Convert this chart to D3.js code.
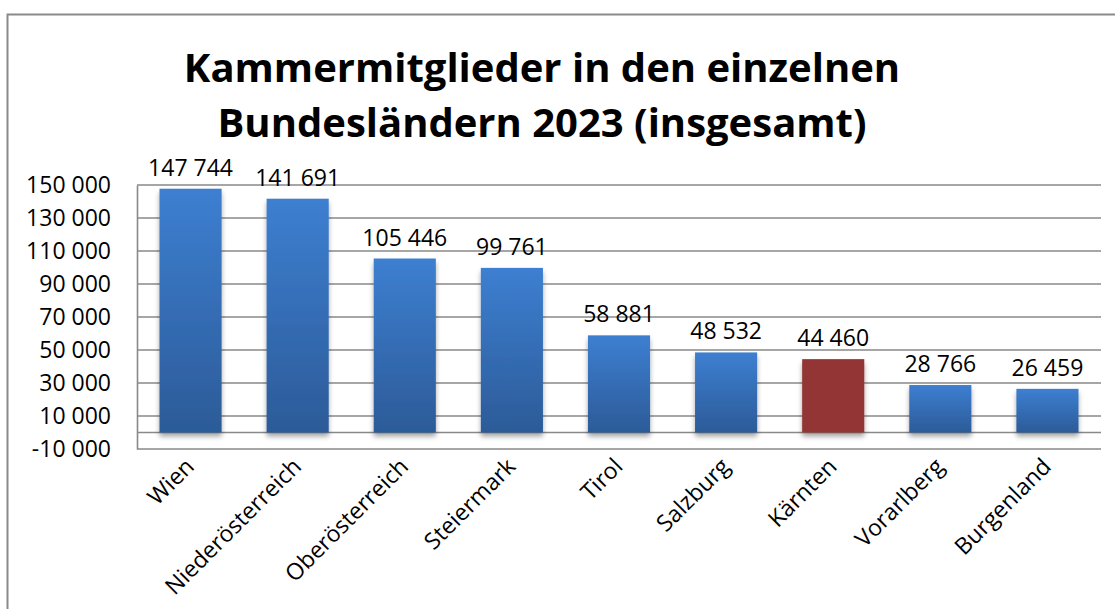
<!DOCTYPE html>
<html>
<head>
<meta charset="utf-8">
<script src="https://cdn.jsdelivr.net/npm/d3@7"></script>
<style>
  body { margin: 0; background: #fff; }
  text { font-family: "Open Sans", sans-serif; fill: #000; }
</style>
</head>
<body>
<div id="chart"></div>
<script>
// data
const states = ["Wien", "Niederösterreich", "Oberösterreich", "Steiermark", "Tirol",
    "Salzburg", "Kärnten", "Vorarlberg", "Burgenland"];
const members = [147744, 141691, 105446, 99761, 58881, 48532, 44460, 28766, 26459];
const highlighted = ["Kärnten"];
const yTicks = [-10000, 10000, 30000, 50000, 70000, 90000, 110000, 130000, 150000];
const titleLines = ["Kammermitglieder in den einzelnen", "Bundesländern 2023 (insgesamt)"];

const width = 1115, height = 609;
const plot = { left: 137, right: 1101, top: 185, bottom: 449 };

const locale = d3.formatLocale({ decimal: ",", thousands: " ", grouping: [3], currency: ["", ""], minus: "-" });
const fmt = locale.format(",d");

const svg = d3.select("#chart")
    .append("svg")
    .attr("width", width)
    .attr("height", height);

const defs = svg.append("defs");
const grad = defs.append("linearGradient")
    .attr("id", "barBlue")
    .attr("x1", 0).attr("y1", 0).attr("x2", 0).attr("y2", 1);
grad.append("stop").attr("offset", "0%").attr("stop-color", "#3d7fd1");
grad.append("stop").attr("offset", "100%").attr("stop-color", "#2c5b98");

const shadow = defs.append("filter")
    .attr("id", "shadow")
    .attr("x", "-20%").attr("y", "-10%").attr("width", "140%").attr("height", "130%");
shadow.append("feDropShadow")
    .attr("dx", 0).attr("dy", 4)
    .attr("stdDeviation", 2.5)
    .attr("flood-color", "#000")
    .attr("flood-opacity", 0.35);

// outer chart frame (runs off the right and bottom edges)
svg.append("rect")
    .attr("x", 7.5).attr("y", 14.5)
    .attr("width", width + 20).attr("height", height + 20)
    .attr("fill", "none")
    .attr("stroke", "#8a8a8a")
    .attr("stroke-width", 2);

// title
svg.append("text")
    .attr("x", 542)
    .attr("text-anchor", "middle")
    .style("font-weight", "bold")
    .style("font-size", "40px")
    .selectAll("tspan")
    .data(titleLines)
    .enter()
    .append("tspan")
    .attr("x", 542)
    .attr("y", (d, i) => 82 + i * 55)
    .text((d) => d);

const x = d3.scaleBand()
    .domain(states)
    .range([plot.left, plot.right])
    .paddingInner(0.42)
    .paddingOuter(0.21);

const y = d3.scaleLinear()
    .domain([-10000, 150000])
    .range([plot.bottom, plot.top]);

// gridlines
svg.append("g")
    .selectAll("line")
    .data(yTicks.concat([0]))
    .enter()
    .append("line")
    .attr("x1", plot.left)
    .attr("x2", plot.right)
    .attr("y1", (d) => y(d))
    .attr("y2", (d) => y(d))
    .attr("stroke", "#898989")
    .attr("stroke-width", 1.6);

// value axis
const yAxis = svg.append("g")
    .attr("transform", `translate(${plot.left},0)`)
    .call(d3.axisLeft(y).tickValues(yTicks).tickFormat(fmt).tickSize(0).tickPadding(26));
yAxis.select(".domain").attr("stroke", "#898989").attr("stroke-width", 1.6);
yAxis.selectAll("text")
    .style("font-size", "23px")
    .style("font-family", "'Open Sans', sans-serif")
    .attr("fill", "#000");

// bars
svg.append("g")
    .selectAll("rect")
    .data(states)
    .enter()
    .append("rect")
    .attr("x", (d) => x(d))
    .attr("width", x.bandwidth())
    .attr("y", (d, i) => y(members[i]))
    .attr("height", (d, i) => y(0) - y(members[i]))
    .attr("fill", (d) => highlighted.includes(d) ? "#943634" : "url(#barBlue)")
    .attr("filter", "url(#shadow)");

// value labels
svg.append("g")
    .selectAll("text")
    .data(states)
    .enter()
    .append("text")
    .attr("x", (d) => x(d) + x.bandwidth() / 2)
    .attr("y", (d, i) => y(members[i]) - 13)
    .attr("text-anchor", "middle")
    .style("font-size", "23px")
    .text((d, i) => fmt(members[i]));

// category labels, rotated
svg.append("g")
    .selectAll("text")
    .data(states)
    .enter()
    .append("text")
    .attr("text-anchor", "end")
    .attr("transform", (d) => `translate(${x(d) + x.bandwidth() / 2 + 5},468) rotate(-45)`)
    .style("font-size", "23px")
    .text((d) => d);
</script>
</body>
</html>
